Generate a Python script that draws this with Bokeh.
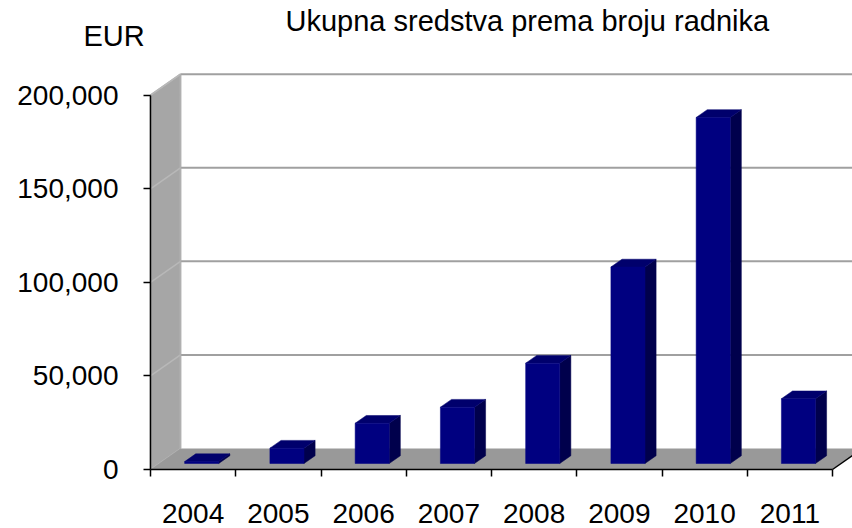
from bokeh.plotting import figure
from bokeh.models import (Range1d, FixedTicker, NumeralTickFormatter, Label,
                          LinearAxis)
from bokeh.embed import file_html
from bokeh.resources import INLINE

# ---- data ----
years = ["2004", "2005", "2006", "2007", "2008", "2009", "2010", "2011"]
values = [1000, 8200, 21500, 30100, 53600, 105000, 184900, 34600]
y_ticks = [0, 50000, 100000, 150000, 200000]
title_text = "Ukupna sredstva prema broju radnika"
unit_label = "EUR"

# ---- geometry / style (pixels) ----
W, H = 852, 528
ORIGIN_X, ORIGIN_Y = 150, 469          # where category 0 / value 0 sit
PX_PER_CAT = 85.25
PX_PER_VAL = 374.3 / 200000
DEPTH_PX = (30.0, 21.0)
BAR_W = 0.40
BAR_F0 = 0.286   # depth position of bar front face (fraction)
BAR_D = 0.37     # bar depth (fraction)
FONT = "Liberation Sans"

DX = DEPTH_PX[0] / PX_PER_CAT
DY = DEPTH_PX[1] / PX_PER_VAL
n = len(years)
ymax = y_ticks[-1]


def to_x(px):
    return (px - ORIGIN_X) / PX_PER_CAT


def to_y(py):
    return (ORIGIN_Y - py) / PX_PER_VAL


p = figure(frame_width=W, frame_height=H,
           min_border_left=0, min_border_right=0,
           min_border_top=0, min_border_bottom=0,
           x_range=Range1d(to_x(0), to_x(W)),
           y_range=Range1d(to_y(H), to_y(0)),
           x_axis_type=None, y_axis_type=None,
           output_backend="svg", toolbar_location=None)
p.outline_line_color = None
p.background_fill_color = "white"
p.border_fill_color = "white"

# back wall
p.quad(left=DX, right=n + DX, bottom=DY, top=ymax + DY,
       fill_color="white", line_color=None)
# side wall
p.patch([0, 0, DX, DX], [0, ymax, ymax + DY, DY],
        fill_color="#a6a6a6", line_color="#b4b4b4", line_width=1.5)
# floor
p.patch([0, n, n + DX, DX], [0, 0, DY, DY],
        fill_color="#999999", line_color=None)

# gridlines on back wall and side wall
grid_vals = [v for v in y_ticks if v > 0]
p.segment(x0=[DX] * len(grid_vals), y0=[v + DY for v in grid_vals],
          x1=[n + DX] * len(grid_vals), y1=[v + DY for v in grid_vals],
          line_color="#a0a0a0", line_width=2)
p.segment(x0=[0] * len(grid_vals), y0=grid_vals,
          x1=[DX] * len(grid_vals), y1=[v + DY for v in grid_vals],
          line_color="#b8b8b8", line_width=1.5)
# back wall left edge
p.segment(x0=[DX], y0=[DY], x1=[DX], y1=[ymax + DY],
          line_color="#b0b0b0", line_width=1.5)
# floor front-right edge
p.segment(x0=[n], y0=[0], x1=[n + DX], y1=[DY], line_color="black", line_width=1.5)

# ---- bars ----
fx, fy, tx, ty, sx, sy = [], [], [], [], [], []
for i, v in enumerate(values):
    xl = i + 0.5 - BAR_W / 2 + BAR_F0 * DX
    xr = xl + BAR_W
    yb = BAR_F0 * DY
    yt = yb + v
    ddx, ddy = BAR_D * DX, BAR_D * DY
    fx.append([xl, xr, xr, xl]); fy.append([yb, yb, yt, yt])
    tx.append([xl, xr, xr + ddx, xl + ddx]); ty.append([yt, yt, yt + ddy, yt + ddy])
    sx.append([xr, xr + ddx, xr + ddx, xr]); sy.append([yb, yb + ddy, yt + ddy, yt])

p.patches(sx, sy, fill_color="#00004c", line_color="#00004c", line_width=0.5)
p.patches(tx, ty, fill_color="#00006c", line_color="#00006c", line_width=0.5)
p.patches(fx, fy, fill_color="#000080", line_color="#000080", line_width=0.5)

# ---- axes (fixed at the front plane) ----
yaxis = LinearAxis(ticker=FixedTicker(ticks=y_ticks),
                   formatter=NumeralTickFormatter(format="0,0"),
                   bounds=(0, ymax), fixed_location=0)
yaxis.major_tick_out = 7
yaxis.major_tick_in = 0
yaxis.minor_tick_out = 0
yaxis.minor_tick_in = 0
yaxis.major_label_standoff = 25
yaxis.major_label_text_font = FONT
yaxis.major_label_text_font_size = "28px"
yaxis.major_label_text_color = "black"
yaxis.axis_line_color = "black"
yaxis.axis_line_width = 1.5
yaxis.major_tick_line_color = "black"
yaxis.major_tick_line_width = 1.5
p.add_layout(yaxis, "left")

centers = [i + 0.5 for i in range(n)]
xaxis = LinearAxis(ticker=FixedTicker(ticks=centers, minor_ticks=list(range(n + 1))),
                   bounds=(0, n), fixed_location=0)
xaxis.major_label_overrides = {c: y for c, y in zip(centers, years)}
xaxis.major_tick_out = 0
xaxis.major_tick_in = 0
xaxis.minor_tick_out = 7
xaxis.minor_tick_in = 0
xaxis.major_label_standoff = 27
xaxis.major_label_text_font = FONT
xaxis.major_label_text_font_size = "28px"
xaxis.major_label_text_color = "black"
xaxis.axis_line_color = "black"
xaxis.axis_line_width = 1.5
xaxis.minor_tick_line_color = "black"
xaxis.minor_tick_line_width = 1.5
p.add_layout(xaxis, "below")

# ---- title & unit ----
p.add_layout(Label(x=to_x(285), y=to_y(20), text=title_text,
                   text_align="left", text_baseline="alphabetic",
                   text_font=FONT, text_font_size="29px", text_color="black"))
p.add_layout(Label(x=to_x(83), y=to_y(35), text=unit_label,
                   text_align="left", text_baseline="alphabetic",
                   text_font=FONT, text_font_size="29px", text_color="black"))

open("out.html", "w").write(file_html(p, INLINE))
